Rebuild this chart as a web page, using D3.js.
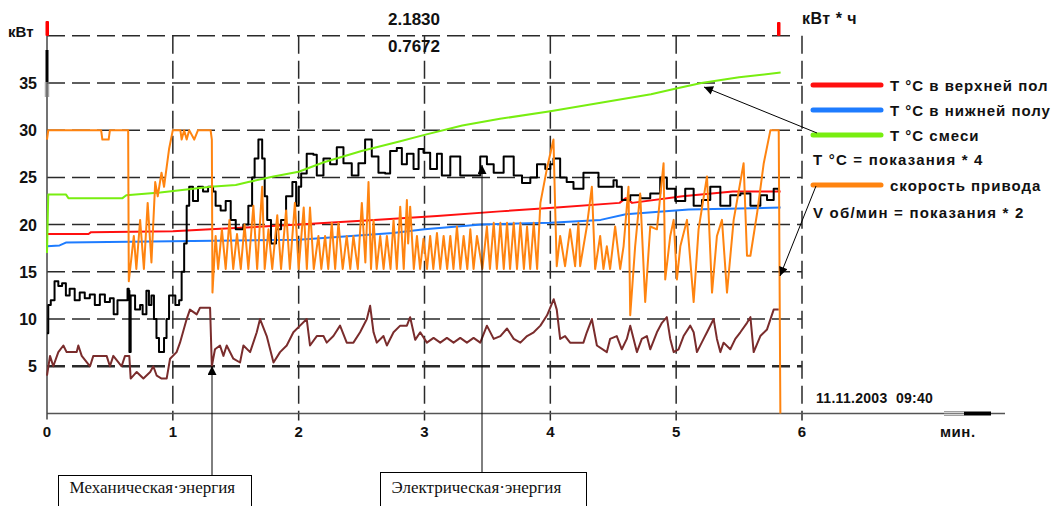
<!DOCTYPE html>
<html>
<head>
<meta charset="utf-8">
<script src="https://cdn.jsdelivr.net/npm/d3@7"></script>
<style>
body{margin:0;background:#fff;overflow:hidden}
svg text{font-family:"Liberation Sans",Arial,sans-serif;font-weight:bold;fill:#111}
</style>
</head>
<body>
<svg id="graph"></svg>
<script>
// time in minutes, values in chart units
var yTicks=[5,10,15,20,25,30,35]
var xTicks=[0,1,2,3,4,5,6]

var redT=[[0,19],[0.33,19],[0.35,19.2],[1.0,19.3],[1.3,19.5],[2.0,20],[2.6,20.5],[3.1,20.9],[3.6,21.4],[4.05,21.8],[4.55,22.3],[4.6,22.8],[4.65,22.3],[5.05,23],[5.45,23.5],[5.83,23.5]]

var blueT=[[0,17.7],[0.1,17.8],[0.15,18.1],[2.0,18.4],[2.75,19.1],[3.0,19.5],[3.45,20],[4.0,20.2],[4.4,20.5],[4.6,21.1],[5.1,21.6],[5.83,21.8]]

var greenT=[[0,17],[0.01,23.2],[0.15,23.2],[0.17,22.8],[0.6,22.8],[0.63,23.1],[0.9,23.4],[1.3,24],[1.5,24.2],[1.6,24.5],[1.8,25.1],[2.0,25.6],[2.2,26.6],[2.5,27.8],[2.8,28.8],[3.0,29.5],[3.3,30.5],[3.6,31.2],[4.0,32],[4.4,32.9],[4.8,33.8],[5.0,34.4],[5.2,35],[5.5,35.6],[5.83,36.1]]

var power=[[0,8.5],[0.01,11.5],[0.03,12],[0.06,14],[0.09,13.5],[0.12,13.8],[0.15,12.5],[0.18,13.2],[0.22,12],[0.26,12.8],[0.3,12.2],[0.34,12.6],[0.38,11.5],[0.42,12.6],[0.46,11.8],[0.5,12.2],[0.53,10.5],[0.56,12],[0.6,12],[0.64,13.2],[0.65,13],[0.655,6.5],[0.665,12.5],[0.7,11],[0.74,11.5],[0.76,10.5],[0.79,13],[0.81,11.5],[0.83,12.5],[0.85,10],[0.87,8],[0.89,6.5],[0.93,8],[0.95,10],[0.97,12.5],[1.0,12.5],[1.02,11.5],[1.05,12],[1.07,15],[1.09,18],[1.11,22],[1.13,24],[1.16,22.5],[1.2,24],[1.24,23.5],[1.28,24],[1.32,23.5],[1.34,22],[1.38,21.5],[1.42,22.5],[1.46,20.5],[1.5,19.5],[1.56,20],[1.6,22],[1.63,25],[1.65,27],[1.68,29],[1.71,27],[1.73,23],[1.75,20.5],[1.78,18],[1.82,19.5],[1.86,20.5],[1.9,23],[1.95,24.5],[1.98,22],[2.0,24],[2.02,25.4],[2.064,27.5],[2.117,27.4],[2.144,25.2],[2.197,27],[2.25,26.4],[2.303,28.2],[2.356,26.5],[2.422,25.2],[2.475,26.5],[2.528,29],[2.581,27.2],[2.634,25.5],[2.687,25.4],[2.727,27.8],[2.78,28.1],[2.82,26.4],[2.86,27.5],[2.913,25.9],[2.953,28],[2.992,27.6],[3.045,25.9],[3.099,27.5],[3.138,25.2],[3.205,27.2],[3.284,25.2],[3.337,25.2],[3.443,27.2],[3.496,26.4],[3.55,25.5],[3.629,27.2],[3.709,25.2],[3.775,24.4],[3.841,25],[3.894,26.4],[3.96,25.9],[4.0,26.4],[4.025,27],[4.078,25],[4.13,24.5],[4.184,23.8],[4.263,25.5],[4.343,25.5],[4.383,24],[4.449,24],[4.502,24.7],[4.528,24],[4.568,22.6],[4.635,23.1],[4.714,22.8],[4.794,23.3],[4.847,23.3],[4.873,25],[4.926,23.8],[4.993,22.5],[5.072,23.8],[5.139,22],[5.205,22.6],[5.271,24],[5.351,22],[5.43,23.1],[5.51,23.3],[5.59,22],[5.669,23.1],[5.722,22.6],[5.775,23.8],[5.815,23.5]]

var mech=[[0,4],[0.024,6.1],[0.05,5],[0.09,6.5],[0.13,7.2],[0.156,6.5],[0.236,6.5],[0.249,7.2],[0.276,6.1],[0.342,5],[0.368,6.1],[0.474,6.1],[0.5,5],[0.527,6.1],[0.593,5],[0.62,6.1],[0.654,6.1],[0.665,3.7],[0.713,4.4],[0.766,3.7],[0.82,4.4],[0.845,5],[0.872,4],[0.911,3.7],[0.951,3.7],[0.978,5.8],[1.03,6.5],[1.057,7.5],[1.11,10],[1.136,11],[1.19,10.5],[1.216,11.2],[1.296,11.2],[1.31,5],[1.335,6.8],[1.375,7.2],[1.402,6.1],[1.428,7.2],[1.481,5.8],[1.534,5.4],[1.561,7.2],[1.614,6.5],[1.667,8.6],[1.693,10],[1.746,8.2],[1.8,5.4],[1.852,6.5],[1.905,7.2],[1.958,8.6],[2.011,9.3],[2.064,10],[2.09,7.2],[2.144,8.2],[2.197,8.2],[2.223,7.5],[2.276,8.2],[2.329,9.3],[2.382,7.5],[2.435,7.5],[2.488,8.6],[2.542,10],[2.568,11.4],[2.595,8.6],[2.621,7.5],[2.674,8.2],[2.701,7.2],[2.754,8.6],[2.807,9.3],[2.86,9.3],[2.886,10.2],[2.926,7.8],[2.966,8.6],[3.019,7.5],[3.072,8],[3.125,7.5],[3.178,8],[3.231,7.5],[3.284,8],[3.337,7.5],[3.39,8],[3.443,7.5],[3.496,9.3],[3.55,7.9],[3.603,8.2],[3.656,9],[3.709,7.9],[3.762,7.5],[3.815,8.2],[3.868,8.6],[3.921,9.3],[3.974,10.4],[4.027,12.1],[4.051,11],[4.078,7.9],[4.117,8.2],[4.157,7.5],[4.263,7.5],[4.29,8.6],[4.33,10],[4.37,7.2],[4.449,6.5],[4.475,7.9],[4.528,8.2],[4.568,6.8],[4.608,7.9],[4.635,9.3],[4.688,6.5],[4.727,7.9],[4.767,8.2],[4.794,6.8],[4.847,8.6],[4.887,9.6],[4.926,10.2],[4.953,7.9],[4.98,6.5],[5.019,6.8],[5.059,8.2],[5.112,9.3],[5.139,8.6],[5.165,6.5],[5.218,7.9],[5.245,8.6],[5.298,10],[5.324,7.9],[5.351,6.5],[5.377,7.5],[5.43,6.8],[5.47,7.9],[5.51,8.6],[5.563,9.6],[5.59,10.2],[5.616,6.5],[5.669,8.2],[5.722,8.9],[5.775,11],[5.815,11]]

var speed=[[0,29],[0.01,30],[0.43,30],[0.44,29],[0.49,29],[0.5,30],[0.645,30],[0.65,14],[0.69,18.8],[0.71,15.3],[0.74,20.5],[0.77,15.3],[0.8,22.3],[0.83,16],[0.86,24.5],[0.88,23],[0.91,25.5],[0.93,24],[0.97,28],[1.0,30],[1.06,30],[1.07,29],[1.09,30],[1.11,29],[1.13,30],[1.17,29],[1.2,30],[1.3,30],[1.31,29],[1.315,12.8],[1.34,18.8],[1.36,15.3],[1.39,19.5],[1.42,15.3],[1.45,20.5],[1.48,15.3],[1.51,19],[1.54,15.3],[1.57,20],[1.6,15.3],[1.64,22],[1.67,15.3],[1.71,24],[1.73,15.3],[1.76,19.5],[1.79,15.3],[1.83,21],[1.86,15.3],[1.9,21.5],[1.93,15.3],[1.97,22.3],[2.0,15.3],
[2.04,21.8],[2.065,15.3],[2.09,21.8],[2.12,15.3],[2.157,18.8],[2.18,15.3],[2.21,18.8],[2.235,15.3],[2.263,20.2],[2.29,15.3],[2.316,20.2],[2.35,15.3],[2.382,18.8],[2.41,15.3],[2.435,18.8],[2.47,15.3],[2.502,22.3],[2.53,16],[2.555,24.5],[2.575,15.3],[2.595,20.5],[2.62,15.3],[2.648,18.8],[2.675,15.3],[2.701,18.8],[2.73,15.3],[2.754,20.5],[2.78,15.3],[2.807,21.9],[2.835,15.3],[2.86,22.6],[2.87,18],[2.886,21.9],[2.915,15.3],[2.94,18.8],[2.965,15.3],[2.992,18.5],[3.02,15.3],[3.045,18.8],[3.07,15.3],[3.099,19.1],[3.125,15.3],[3.152,18.8],[3.18,15.3],[3.205,18.8],[3.23,15.3],[3.258,19.8],[3.285,15.3],[3.311,18.8],[3.34,15.3],[3.364,19.5],[3.39,15.3],[3.417,18.8],[3.46,15.3],[3.496,19.8],[3.52,15.3],[3.55,20.2],[3.575,15.3],[3.603,20.2],[3.63,15.3],[3.656,20.2],[3.68,15.3],[3.709,20.2],[3.735,15.3],[3.762,20.2],[3.79,15.3],[3.815,19.8],[3.84,15.3],[3.868,20.2],[3.895,15.3],[3.921,22.3],[3.974,26],[4.025,29],[4.038,22],[4.051,15.6],[4.078,18.8],[4.117,15.6],[4.157,19.5],[4.197,15.6],[4.223,20.2],[4.237,15.6],[4.29,19.8],[4.33,24],[4.356,15.3],[4.396,18.8],[4.422,15.3],[4.449,17.7],[4.475,15.3],[4.515,19.8],[4.555,15.3],[4.582,17.7],[4.621,24],[4.635,10.4],[4.674,17.7],[4.714,23.3],[4.754,11.8],[4.794,19.8],[4.847,19.5],[4.9,26.5],[4.913,14.2],[4.953,18.8],[4.98,20.5],[5.006,14.2],[5.033,17.7],[5.086,20.5],[5.139,11.8],[5.178,19.5],[5.245,25.1],[5.285,12.8],[5.324,18.8],[5.364,20.5],[5.404,12.8],[5.457,20.5],[5.536,26.5],[5.563,16.7],[5.59,16.7],[5.643,21.2],[5.696,26.5],[5.749,30],[5.815,30],[5.828,0]]

var legendItems=[
  {label:"T °C в верхней пол",color:"#ff1010"},
  {label:"T °C в нижней полу",color:"#1e7cff"},
  {label:"T °C смеси",color:"#78ee10"},
  {label:"T °C = показания * 4",color:null},
  {label:"скорость привода",color:"#ff8410"},
  {label:"V об/мин = показания * 2",color:null}
]

var width=1053, height=506
var svg=d3.select("svg").attr("width",width).attr("height",height)

var x=d3.scaleLinear().domain([0,6]).range([47,802])
var y=d3.scaleLinear().domain([0,40]).range([413.5,35.7])

// arrow head
svg.append("defs").append("marker")
  .attr("id","arr").attr("viewBox","0 0 10 10")
  .attr("refX",10).attr("refY",5)
  .attr("markerWidth",11).attr("markerHeight",9)
  .attr("markerUnits","userSpaceOnUse")
  .attr("orient","auto")
  .append("path").attr("d","M0,0L10,5L0,10z").attr("fill","#000")

// horizontal dashed grid
svg.append("g").selectAll("line")
  .data(yTicks.concat([40]))
  .enter().append("line")
  .attr("x1",x(0)).attr("x2",function(d){return d==40?795:x(6)})
  .attr("y1",function(d){return y(d)}).attr("y2",function(d){return y(d)})
  .attr("stroke","#2a2a2a")
  .attr("stroke-width",function(d){return d==5?2.5:1.5})
  .attr("stroke-dasharray","18,7")

// vertical dashed grid
svg.append("g").selectAll("line")
  .data(xTicks.slice(1))
  .enter().append("line")
  .attr("x1",function(d){return x(d)}).attr("x2",function(d){return x(d)})
  .attr("y1",y(40)).attr("y2",y(0)+7)
  .attr("stroke","#2a2a2a").attr("stroke-width",1.5)
  .attr("stroke-dasharray","18,7")

// axes lines
svg.append("line").attr("x1",x(0)).attr("x2",1005).attr("y1",y(0)).attr("y2",y(0))
  .attr("stroke","#555").attr("stroke-width",1.5)
svg.append("line").attr("x1",x(0)).attr("x2",x(0)).attr("y1",y(40)).attr("y2",y(0)+6)
  .attr("stroke","#444").attr("stroke-width",1.5)

// scroll markers
svg.append("rect").attr("x",45.5).attr("y",50).attr("width",3).attr("height",32).attr("fill","#000")
;[45.3,47,48.7].forEach(function(px){
  svg.append("line").attr("x1",px).attr("x2",px).attr("y1",82).attr("y2",97).attr("stroke","#777").attr("stroke-width",0.8)
})
svg.append("rect").attr("x",45.5).attr("y",21).attr("width",3.5).attr("height",15).attr("rx",1).attr("fill","#ff0000")
svg.append("rect").attr("x",777).attr("y",22).attr("width",3.5).attr("height",14).attr("rx",1).attr("fill","#ff0000")
svg.append("rect").attr("x",964).attr("y",411.5).attr("width",27).attr("height",4).attr("fill","#000")
;[411.5,413.5,415.5].forEach(function(py){
  svg.append("line").attr("x1",944).attr("x2",964).attr("y1",py).attr("y2",py).attr("stroke","#888").attr("stroke-width",0.8)
})

// tick labels
svg.append("g").selectAll("text").data(yTicks).enter().append("text")
  .attr("x",37).attr("y",function(d){return y(d)+6})
  .attr("text-anchor","end").style("font-size","16px")
  .text(function(d){return d})
svg.append("g").selectAll("text").data(xTicks).enter().append("text")
  .attr("x",function(d){return x(d)}).attr("y",437)
  .attr("text-anchor","middle").style("font-size","15px")
  .text(function(d){return d})

svg.append("text").attr("x",8).attr("y",37).style("font-size","15px").text("кВт")
svg.append("text").attr("x",802).attr("y",24).style("font-size","16px").style("letter-spacing","0.5px").text("кВт * ч")
svg.append("text").attr("x",940).attr("y",437).style("font-size","15px").style("letter-spacing","0.5px").text("мин.")
svg.append("text").attr("x",414).attr("y",25).attr("text-anchor","middle").style("font-size","17px").text("2.1830")
svg.append("text").attr("x",414).attr("y",51.5).attr("text-anchor","middle").style("font-size","17px").text("0.7672")
svg.append("text").attr("x",816).attr("y",403).style("font-size","14px").style("letter-spacing","0.3px").text("11.11.2003  09:40").attr("xml:space","preserve")

// series
var line=d3.line().x(function(d){return x(d[0])}).y(function(d){return y(d[1])})
var stepLine=d3.line().curve(d3.curveStepAfter).x(function(d){return x(d[0])}).y(function(d){return y(d[1])})
var series=[
  {data:mech,color:"#7a2c2c",gen:line},
  {data:blueT,color:"#1e7cff",gen:line},
  {data:redT,color:"#ff1010",gen:line},
  {data:power,color:"#000",gen:stepLine},
  {data:greenT,color:"#78ee10",gen:line},
  {data:speed,color:"#ff8410",gen:line}
]
svg.append("g").selectAll("path").data(series).enter().append("path")
  .attr("d",function(s){return s.gen(s.data)})
  .attr("fill","none")
  .attr("stroke",function(s){return s.color})
  .attr("stroke-width",2)
  .attr("stroke-linejoin","round")

// legend
var leg=svg.append("g")
var legY=[85,110,135,159,185,212]
legendItems.forEach(function(item,i){
  if(item.color){
    leg.append("line").attr("x1",813).attr("x2",881).attr("y1",legY[i]).attr("y2",legY[i])
      .attr("stroke",item.color).attr("stroke-width",5).attr("stroke-linecap","round")
    leg.append("text").attr("x",890).attr("y",legY[i]+5.5).style("font-size","15px")
      .style("letter-spacing","1px").text(item.label)
  } else {
    leg.append("text").attr("x",813).attr("y",legY[i]+5.5).style("font-size","15px")
      .style("letter-spacing","1.2px").text(item.label)
  }
})

// arrows
function arrow(x1,y1,x2,y2){
  svg.append("line").attr("x1",x1).attr("y1",y1).attr("x2",x2).attr("y2",y2)
    .attr("stroke","#000").attr("stroke-width",1).attr("marker-end","url(#arr)")
}
arrow(817,133,704,87)
arrow(816,186,780,276)
arrow(212,475,212,366)
arrow(482,472,482,165)

// annotation boxes
function box(x0,y0,w,label){
  svg.append("rect").attr("x",x0).attr("y",y0).attr("width",w).attr("height",50)
    .attr("fill","#fff").attr("stroke","#000").attr("stroke-width",1)
  svg.append("text").attr("x",x0+11).attr("y",493)
    .style("font-family","'Liberation Serif','Times New Roman',serif")
    .style("font-weight","normal").style("font-size","17px")
    .text(label)
}
box(58.5,475.5,193,"Механическая·энергия")
box(380.5,472.5,206,"Электрическая·энергия")
</script>
</body>
</html>
